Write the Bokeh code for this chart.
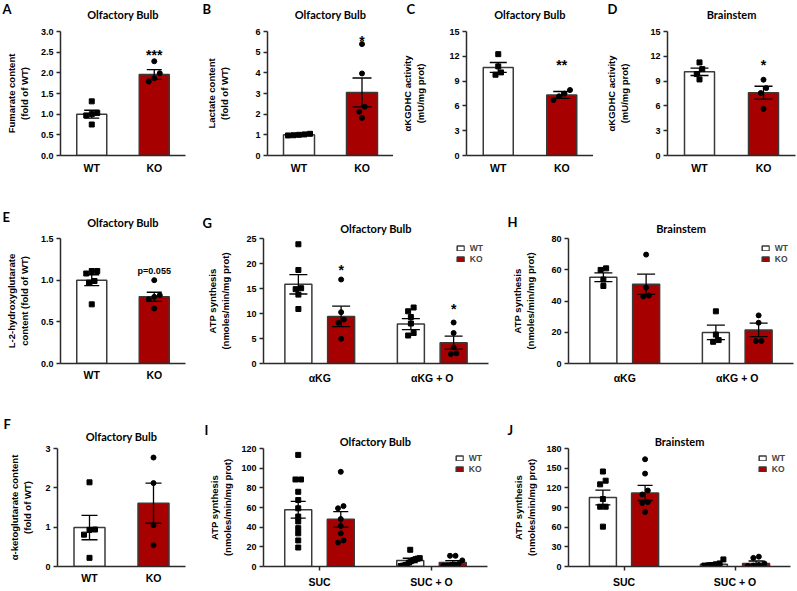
from bokeh.plotting import figure
from bokeh.models import FactorRange, Range1d, FixedTicker, Label, Legend, LegendItem, NumeralTickFormatter, Title
from bokeh.layouts import row, column
from bokeh.embed import file_html
from bokeh.resources import INLINE

# ---------------- data ----------------
genotypes = ["WT", "KO"]

a_mean = [1.00, 1.96]; a_sem = [0.095, 0.12]
a_wt = [1.31, 1.03, 1.00, 0.97, 0.75]
a_ko = [2.28, 1.99, 1.87, 1.79]

b_mean = [1.00, 3.05]; b_sem = [0.03, 0.70]
b_wt = [1.02, 0.98, 1.05, 0.97, 1.00]
b_ko = [5.39, 3.97, 2.36, 2.12, 1.82]

c_mean = [10.65, 7.32]; c_sem = [0.60, 0.42]
c_wt = [12.26, 10.78, 10.05, 9.77]
c_ko = [7.92, 7.48, 7.16, 6.71]

d_mean = [10.13, 7.60]; d_sem = [0.45, 0.78]
d_wt = [11.26, 10.45, 9.85, 9.20]
d_ko = [9.17, 8.16, 7.56, 5.63]

e_mean = [1.00, 0.80]; e_sem = [0.065, 0.055]
e_wt = [1.11, 1.11, 1.08, 0.99, 0.97, 0.71]
e_ko = [1.00, 0.82, 0.80, 0.77, 0.66]

f_mean = [0.99, 1.61]; f_sem = [0.31, 0.51]
f_wt = [2.14, 0.93, 0.94, 0.81, 0.22]
f_ko = [2.77, 2.12, 1.05, 0.54]

akg_conditions = ["αKG", "αKG + O"]
g_wt_mean = [15.83, 7.88]; g_wt_sem = [1.93, 1.10]
g_ko_mean = [9.42, 4.17]; g_ko_sem = [2.05, 1.30]
g_wt_pts = [[23.85, 18.7, 15.06, 14.87, 13.78, 10.9], [11.2, 10.45, 9.3, 8.0, 6.1, 5.6]]
g_ko_pts = [[16.8, 10.26, 8.78, 8.14, 4.94], [8.2, 6.1, 3.2, 2.05, 1.9]]

h_wt_mean = [55.2, 19.9]; h_wt_sem = [2.8, 4.6]
h_ko_mean = [50.7, 21.5]; h_ko_sem = [6.5, 4.3]
h_wt_pts = [[60.9, 59.9, 53.7, 49.6], [33.4, 18.5, 15.0, 13.9]]
h_ko_pts = [[69.7, 48.6, 43.5, 42.9], [30.8, 26.1, 14.4, 14.4]]

suc_conditions = ["SUC", "SUC + O"]
i_wt_mean = [57.7, 6.2]; i_wt_sem = [8.6, 2.2]
i_ko_mean = [48.0, 4.0]; i_ko_sem = [7.9, 2.0]
i_wt_pts = [[113.5, 88.5, 88.5, 76.0, 67.6, 59.2, 50.8, 45.8, 39.0, 33.7, 26.5, 19.3],
            [17.0, 8.5, 8.0, 7.5, 6.5, 5.5, 4.0, 2.0, 1.0, 0.8, 0.5]]
i_ko_pts = [[96.3, 61.4, 59.2, 48.3, 41.1, 33.7, 26.5, 24.3],
            [10.9, 10.9, 6.2, 2.5, 1.5, 1.0, 0.8, 2.0]]

j_wt_mean = [105.2, 3.3]; j_wt_sem = [11.3, 2.3]
j_ko_mean = [112.2, 4.7]; j_ko_sem = [11.5, 3.7]
j_wt_pts = [[144.9, 130.9, 125.3, 102.9, 91.2, 91.2, 60.8], [10.8, 4.7, 3.3, 2.3, 1.4, 1.4]]
j_ko_pts = [[163.6, 141.7, 115.9, 109.9, 98.2, 96.8, 83.2], [15.0, 13.1, 4.7, 2.3, 1.4, 0.9]]

# ---------------- style ----------------
WHITE = "#ffffff"
RED = "#a60000"
EDGE = "#3a3a3a"
AXC = "#2a2a2a"
TICKF = "Liberation Sans"
TITLEF = "Lato"
LETTER_PX = 13
TITLE_PX = 11
ASC = 0.93  # approximate font ascent (fraction of font size)


def swarm(vals, thr, step, maxw):
    n = len(vals)
    order = sorted(range(n), key=lambda i: vals[i])
    offs = [0.0] * n
    clusters, cur = [], [order[0]]
    for i in order[1:]:
        if vals[i] - vals[cur[-1]] <= thr:
            cur.append(i)
        else:
            clusters.append(cur)
            cur = [i]
    clusters.append(cur)
    for c in clusters:
        k = len(c)
        s = step if k < 2 else min(step, maxw / (k - 1))
        for j, i in enumerate(c):
            offs[i] = (j - (k - 1) / 2) * s
    return offs


def single_series(mean, sem, wt, ko):
    return [dict(name="WT", cats=["WT"], off=0.0, means=[mean[0]], sems=[sem[0]], pts=[wt], fill=WHITE, marker="square"),
            dict(name="KO", cats=["KO"], off=0.0, means=[mean[1]], sems=[sem[1]], pts=[ko], fill=RED, marker="circle")]


def grouped_series(cats, dodge, wm, ws, wp, km, ks, kp):
    return [dict(name="WT", cats=cats, off=-dodge, means=wm, sems=ws, pts=wp, fill=WHITE, marker="square"),
            dict(name="KO", cats=cats, off=dodge, means=km, sems=ks, pts=kp, fill=RED, marker="circle")]


def build(s):
    cats = s["cats"]; n = len(cats)
    W, H = s["size"]; L, R, T, B = s["borders"]
    fw, fh = W - L - R, H - T - B
    ymax = s["ymax"]
    pxu = fw / n
    py = fh / ymax
    p = figure(width=W, height=H, x_range=FactorRange(factors=cats), y_range=Range1d(0, ymax),
               output_backend="svg", toolbar_location=None, title=None,
               min_border_left=L, min_border_right=R, min_border_top=T, min_border_bottom=B)
    p.outline_line_color = None
    p.xgrid.visible = False
    p.ygrid.visible = False
    p.background_fill_color = WHITE
    p.border_fill_color = WHITE

    for ax in (p.xaxis[0], p.yaxis[0]):
        ax.axis_line_color = AXC
        ax.axis_line_width = 1.5
        ax.major_tick_line_color = AXC
        ax.major_tick_line_width = 1.5
        ax.major_tick_in = 0
        ax.minor_tick_out = 0
        ax.minor_tick_in = 0
        ax.major_label_text_font = TICKF
        ax.major_label_text_font_style = "bold"
        ax.major_label_text_color = "black"
    yax = p.yaxis[0]
    yax.ticker = FixedTicker(ticks=[k * s["ystep"] for k in range(int(round(ymax / s["ystep"])) + 1)])
    if s.get("fmt"):
        yax.formatter = NumeralTickFormatter(format=s["fmt"])
    yax.major_tick_out = 4
    yax.major_label_text_font_size = "9px"
    yax.major_label_standoff = 3
    yax.axis_label = s["ylabel"]
    yax.axis_label_text_font = TICKF
    yax.axis_label_text_font_style = "bold"
    yax.axis_label_text_font_size = "9.5px"
    yax.axis_label_text_color = "black"
    yax.axis_label_standoff = s["lgap"]
    xax = p.xaxis[0]
    xax.major_tick_out = s.get("xtick", 0)
    xax.major_label_text_font_size = "10.5px"
    xax.major_label_standoff = s["xstand"]

    barw = s["barw"] / pxu
    capw = s["cap"] / pxu / 2
    legend_items = []
    for ser in s["series"]:
        xs = [(c, ser["off"]) for c in ser["cats"]]
        r = p.vbar(x=xs, top=ser["means"], width=barw, bottom=0, fill_color=ser["fill"],
                   line_color=EDGE, line_width=1.5)
        legend_items.append(LegendItem(label=ser["name"], renderers=[r]))
    for ser in s["series"]:
        for c, m, e, pts in zip(ser["cats"], ser["means"], ser["sems"], ser["pts"]):
            o = ser["off"]
            p.segment(x0=[(c, o)], x1=[(c, o)], y0=[m - e], y1=[m + e], line_color="black", line_width=1.3)
            p.segment(x0=[(c, o - capw), (c, o - capw)], x1=[(c, o + capw), (c, o + capw)],
                      y0=[m - e, m + e], y1=[m - e, m + e], line_color="black", line_width=1.3)
            offs = swarm(pts, 5.0 / py, 5.5 / pxu, (s["barw"] - 8) / pxu)
            p.scatter(x=[(c, o + d) for d in offs], y=pts, marker=ser["marker"], size=5,
                      color="black")

    if s.get("legend"):
        leg = Legend(items=legend_items, location="top_right", orientation="vertical",
                     glyph_width=9, glyph_height=6, label_text_font=TICKF, label_text_font_size="8.5px",
                     label_text_font_style="bold", label_height=8, label_width=0, label_standoff=5,
                     spacing=1, padding=0, margin=5, border_line_color=None, background_fill_alpha=0)
        p.add_layout(leg)

    # --- panel title and letter: zero-height titles anchored by their top edge above the frame
    lx, lb = s["letter"]
    tb = s["tbase"]
    p.add_layout(Title(text=s["title"], align="center", vertical_align="top", text_font=TITLEF,
                       text_font_size=f"{TITLE_PX}px", text_font_style="bold", text_color="black",
                       standoff=2 * (tb - ASC * TITLE_PX - T)), "above")
    p.add_layout(Title(text=s["name"], align="left", vertical_align="top", offset=lx - L,
                       text_font=TITLEF, text_font_size=f"{LETTER_PX}px", text_font_style="bold",
                       text_color="black", standoff=2 * (lb - ASC * LETTER_PX - T)), "above")

    for (c, o, txt, yv, size) in s.get("sig", []):
        p.add_layout(Label(x=cats.index(c) + 0.5 + o, y=yv, text=txt, text_font=TICKF,
                           text_font_size=size, text_font_style="bold", text_align="center",
                           text_baseline="alphabetic", text_color="black"))
    return p


GD = 0.19
specs = [
    dict(name="A", title="Olfactory Bulb", ylabel="Fumarate content\n(fold of WT)", cats=genotypes,
         size=(197, 195), borders=(60, 12, 31, 40), ymax=3, ystep=0.5, fmt="0.0", lgap=8, xstand=6,
         series=single_series(a_mean, a_sem, a_wt, a_ko), barw=30, cap=15, letter=(2, 13), tbase=17.5,
         sig=[("KO", 0, "***", 2.43, "14px")]),
    dict(name="B", title="Olfactory Bulb", ylabel="Lactate content\n(fold of WT)", cats=genotypes,
         size=(196, 195), borders=(70, 0, 31, 40), ymax=6, ystep=1, lgap=22, xstand=6,
         series=single_series(b_mean, b_sem, b_wt, b_ko), barw=31, cap=19, letter=(5, 13), tbase=17.5,
         sig=[("KO", 0, "*", 5.53, "14px")]),
    dict(name="C", title="Olfactory Bulb", ylabel="αKGDHC activity\n(mU/mg prot)", cats=genotypes,
         size=(200, 195), borders=(73, 0, 31, 40), ymax=15, ystep=3, lgap=20, xstand=6,
         series=single_series(c_mean, c_sem, c_wt, c_ko), barw=30, cap=17, letter=(13, 13), tbase=17.5,
         sig=[("KO", 0, "**", 11.0, "14px")]),
    dict(name="D", title="Brainstem", ylabel="αKGDHC activity\n(mU/mg prot)", cats=genotypes,
         size=(203, 195), borders=(74, 1, 31, 40), ymax=15, ystep=3, lgap=17, xstand=6,
         series=single_series(d_mean, d_sem, d_wt, d_ko), barw=30, cap=18, letter=(14, 13), tbase=17.5,
         sig=[("KO", 0, "*", 10.9, "14px")]),
    dict(name="E", title="Olfactory Bulb", ylabel="L-2-hydroxyglutarate\ncontent (fold of WT)", cats=genotypes,
         size=(197, 198), borders=(60, 12, 43, 30), ymax=1.5, ystep=0.5, fmt="0.0", lgap=8, xstand=5,
         series=single_series(e_mean, e_sem, e_wt, e_ko), barw=30, cap=15, letter=(2, 26), tbase=31,
         sig=[("KO", 0, "p=0.055", 1.11, "9px")]),
    dict(name="G", title="Olfactory Bulb", ylabel="ATP synthesis\n(nmoles/min/mg prot)", cats=akg_conditions,
         size=(300, 198), borders=(66, 9, 38, 30), ymax=25, ystep=5, lgap=12, xstand=8,
         series=grouped_series(akg_conditions, GD, g_wt_mean, g_wt_sem, g_wt_pts, g_ko_mean, g_ko_sem, g_ko_pts),
         barw=27, cap=18, letter=(5, 27), tbase=32, legend=True,
         sig=[("αKG", GD, "*", 18.65, "14px"), ("αKG + O", GD, "*", 10.96, "14px")]),
    dict(name="H", title="Brainstem", ylabel="ATP synthesis\n(nmoles/min/mg prot)", cats=akg_conditions,
         size=(299, 198), borders=(71, 3, 38, 30), ymax=80, ystep=20, lgap=12, xstand=8,
         series=grouped_series(akg_conditions, GD, h_wt_mean, h_wt_sem, h_wt_pts, h_ko_mean, h_ko_sem, h_ko_pts),
         barw=27, cap=18, letter=(10, 26), tbase=31.5, legend=True),
    dict(name="F", title="Olfactory Bulb", ylabel="α-ketoglutarate content\n(fold of WT)", cats=genotypes,
         size=(197, 197), borders=(57, 12, 55, 18), ymax=3, ystep=1, lgap=9, xstand=5,
         series=single_series(f_mean, f_sem, f_wt, f_ko), barw=31, cap=16, letter=(3, 35), tbase=47),
    dict(name="I", title="Olfactory Bulb", ylabel="ATP synthesis\n(nmoles/min/mg prot)", cats=suc_conditions,
         size=(300, 197), borders=(66, 10, 49, 20), ymax=120, ystep=20, lgap=5, xstand=5, xtick=4,
         series=grouped_series(suc_conditions, GD, i_wt_mean, i_wt_sem, i_wt_pts, i_ko_mean, i_ko_sem, i_ko_pts),
         barw=27, cap=15, letter=(7, 35), tbase=46, legend=True),
    dict(name="J", title="Brainstem", ylabel="ATP synthesis\n(nmoles/min/mg prot)", cats=suc_conditions,
         size=(299, 197), borders=(71, 6, 49, 20), ymax=180, ystep=30, lgap=6, xstand=5, xtick=4,
         series=grouped_series(suc_conditions, GD, j_wt_mean, j_wt_sem, j_wt_pts, j_ko_mean, j_ko_sem, j_ko_pts),
         barw=27, cap=15, letter=(10, 35), tbase=46, legend=True),
]

figs = {s["name"]: build(s) for s in specs}

layout = column(
    row(figs["A"], figs["B"], figs["C"], figs["D"]),
    row(figs["E"], figs["G"], figs["H"]),
    row(figs["F"], figs["I"], figs["J"]),
)

open("out.html", "w").write(file_html(layout, INLINE))
